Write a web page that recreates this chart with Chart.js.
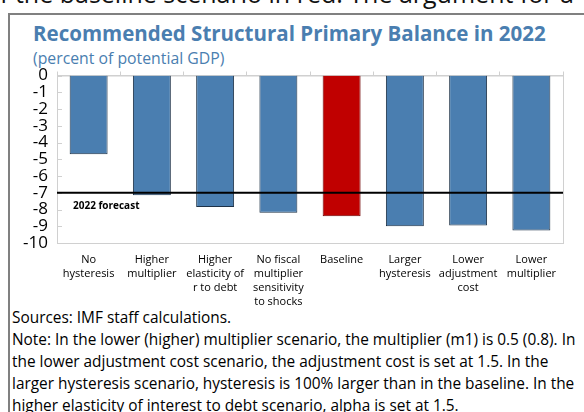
<!DOCTYPE html>
<html>
<head>
<meta charset="utf-8">
<script src="https://cdn.jsdelivr.net/npm/chart.js@4.4.1/dist/chart.umd.min.js"></script>
<style>
  body { margin: 0; width: 584px; height: 412px; overflow: hidden; position: relative; background: #fff; font-family: "Open Sans", sans-serif; }
  #cut { position: absolute; left: -15px; top: -24px; font-size: 25px; white-space: nowrap; color: #111; }
  #box { position: absolute; left: 8px; top: 13px; width: 600px; height: 420px; border-top: 2px solid #808080; border-left: 2px solid #808080; }
  #title { position: absolute; left: 33px; top: 19px; font-size: 20.5px; font-weight: bold; color: #4a7eb0; white-space: nowrap; }
  #subtitle { position: absolute; left: 33px; top: 47px; font-size: 15.8px; color: #4a7eb0; white-space: nowrap; }
  #wrap { position: absolute; left: 9px; top: 58px; width: 575px; height: 249px; }
  #notes { position: absolute; left: 12px; top: 307px; font-size: 15.4px; line-height: 22px; color: #000; white-space: nowrap; }
</style>
</head>
<body>
<div id="cut">of the baseline scenario in red. The argument for a</div>
<div id="box"></div>
<div id="title">Recommended Structural Primary Balance in 2022</div>
<div id="subtitle">(percent of potential GDP)</div>
<div id="wrap"><canvas id="balance-chart"></canvas></div>
<div id="notes">
Sources: IMF staff calculations.<br>
Note: In the lower (higher) multiplier scenario, the multiplier (m1) is 0.5 (0.8). In<br>
the lower adjustment cost scenario, the adjustment cost is set at 1.5. In the<br>
larger hysteresis scenario, hysteresis is 100% larger than in the baseline. In the<br>
higher elasticity of interest to debt scenario, alpha is set at 1.5.
</div>
<script>
const scenarios = [
    ["No", "hysteresis"],
    ["Higher", "multiplier"],
    ["Higher", "elasticity of", "r to debt"],
    ["No fiscal", "multiplier", "sensitivity", "to shocks"],
    ["Baseline"],
    ["Larger", "hysteresis"],
    ["Lower", "adjustment", "cost"],
    ["Lower", "multiplier"]
];
const balance = [-4.7, -7.15, -7.85, -8.2, -8.4, -9.0, -8.95, -9.25];
const forecastValue = -7.0;
const forecastLabel = "2022 forecast";
const highlight = "Baseline";

document.addEventListener('DOMContentLoaded', (event) => {
    const ctx = document.getElementById('balance-chart').getContext('2d');

    const isBase = scenarios.map(s => s.join(" ") === highlight);

    // frame round the plot, small inward y ticks, and the forecast line
    const decorations = {
        id: 'decorations',
        beforeDatasetsDraw(chart) {
            const { ctx, chartArea, scales } = chart;
            ctx.save();
            ctx.strokeStyle = '#d0d0d0';
            ctx.lineWidth = 1;
            ctx.strokeRect(chartArea.left + 0.5, chartArea.top + 0.5, chartArea.right - chartArea.left, chartArea.bottom - chartArea.top);
            scales.y.ticks.forEach(t => {
                const y = Math.round(scales.y.getPixelForValue(t.value)) + 0.5;
                ctx.beginPath();
                ctx.moveTo(chartArea.left, y);
                ctx.lineTo(chartArea.left + 5, y);
                ctx.stroke();
            });
            ctx.restore();
        },
        afterDatasetsDraw(chart) {
            const { ctx, chartArea, scales } = chart;
            const y = scales.y.getPixelForValue(forecastValue);
            ctx.save();
            ctx.strokeStyle = '#000';
            ctx.lineWidth = 2;
            ctx.beginPath();
            ctx.moveTo(chartArea.left, y);
            ctx.lineTo(chartArea.right, y);
            ctx.stroke();
            ctx.fillStyle = '#000';
            ctx.font = 'bold 10px "Open Sans"';
            ctx.textBaseline = 'middle';
            ctx.fillText(forecastLabel, chartArea.left + 16, y + 13);
            ctx.restore();
        }
    };

    new Chart(ctx, {
        type: 'bar',
        data: {
            labels: scenarios,
            datasets: [{
                data: balance,
                backgroundColor: isBase.map(b => b ? '#c00000' : '#4a7eb0'),
                borderColor: isBase.map(b => b ? '#6e0000' : '#1e3247'),
                borderWidth: 1,
                barPercentage: 0.6,
                categoryPercentage: 1.0
            }]
        },
        options: {
            responsive: true,
            maintainAspectRatio: false,
            animation: false,
            layout: { padding: { left: 0, right: 21, top: 0, bottom: 0 } },
            plugins: {
                legend: { display: false },
                tooltip: { enabled: false }
            },
            scales: {
                x: {
                    position: 'bottom',
                    grid: { display: false, drawTicks: false },
                    border: { display: true, color: '#d0d0d0' },
                    ticks: {
                        color: '#000',
                        font: { family: 'Open Sans', size: 11, lineHeight: 1.27 },
                        padding: 10,
                        maxRotation: 0,
                        autoSkip: false
                    },
                    afterFit: (scale) => { scale.height = 64; }
                },
                x2: {
                    position: 'top',
                    grid: { display: true, offset: true, drawOnChartArea: false, drawTicks: true, tickLength: 4, color: '#d0d0d0' },
                    border: { display: true, color: '#d0d0d0' },
                    ticks: { display: false },
                    afterFit: (scale) => { scale.height = 4; }
                },
                y: {
                    min: -10,
                    max: 0,
                    grid: { display: false, drawTicks: false },
                    border: { display: true, color: '#d0d0d0' },
                    ticks: {
                        stepSize: 1,
                        autoSkip: false,
                        color: '#000',
                        padding: 9,
                        font: { family: 'Open Sans', size: 17, lineHeight: 1 }
                    },
                    afterFit: (scale) => { scale.width = 48; }
                }
            }
        },
        plugins: [decorations]
    });
});
</script>
</body>
</html>
